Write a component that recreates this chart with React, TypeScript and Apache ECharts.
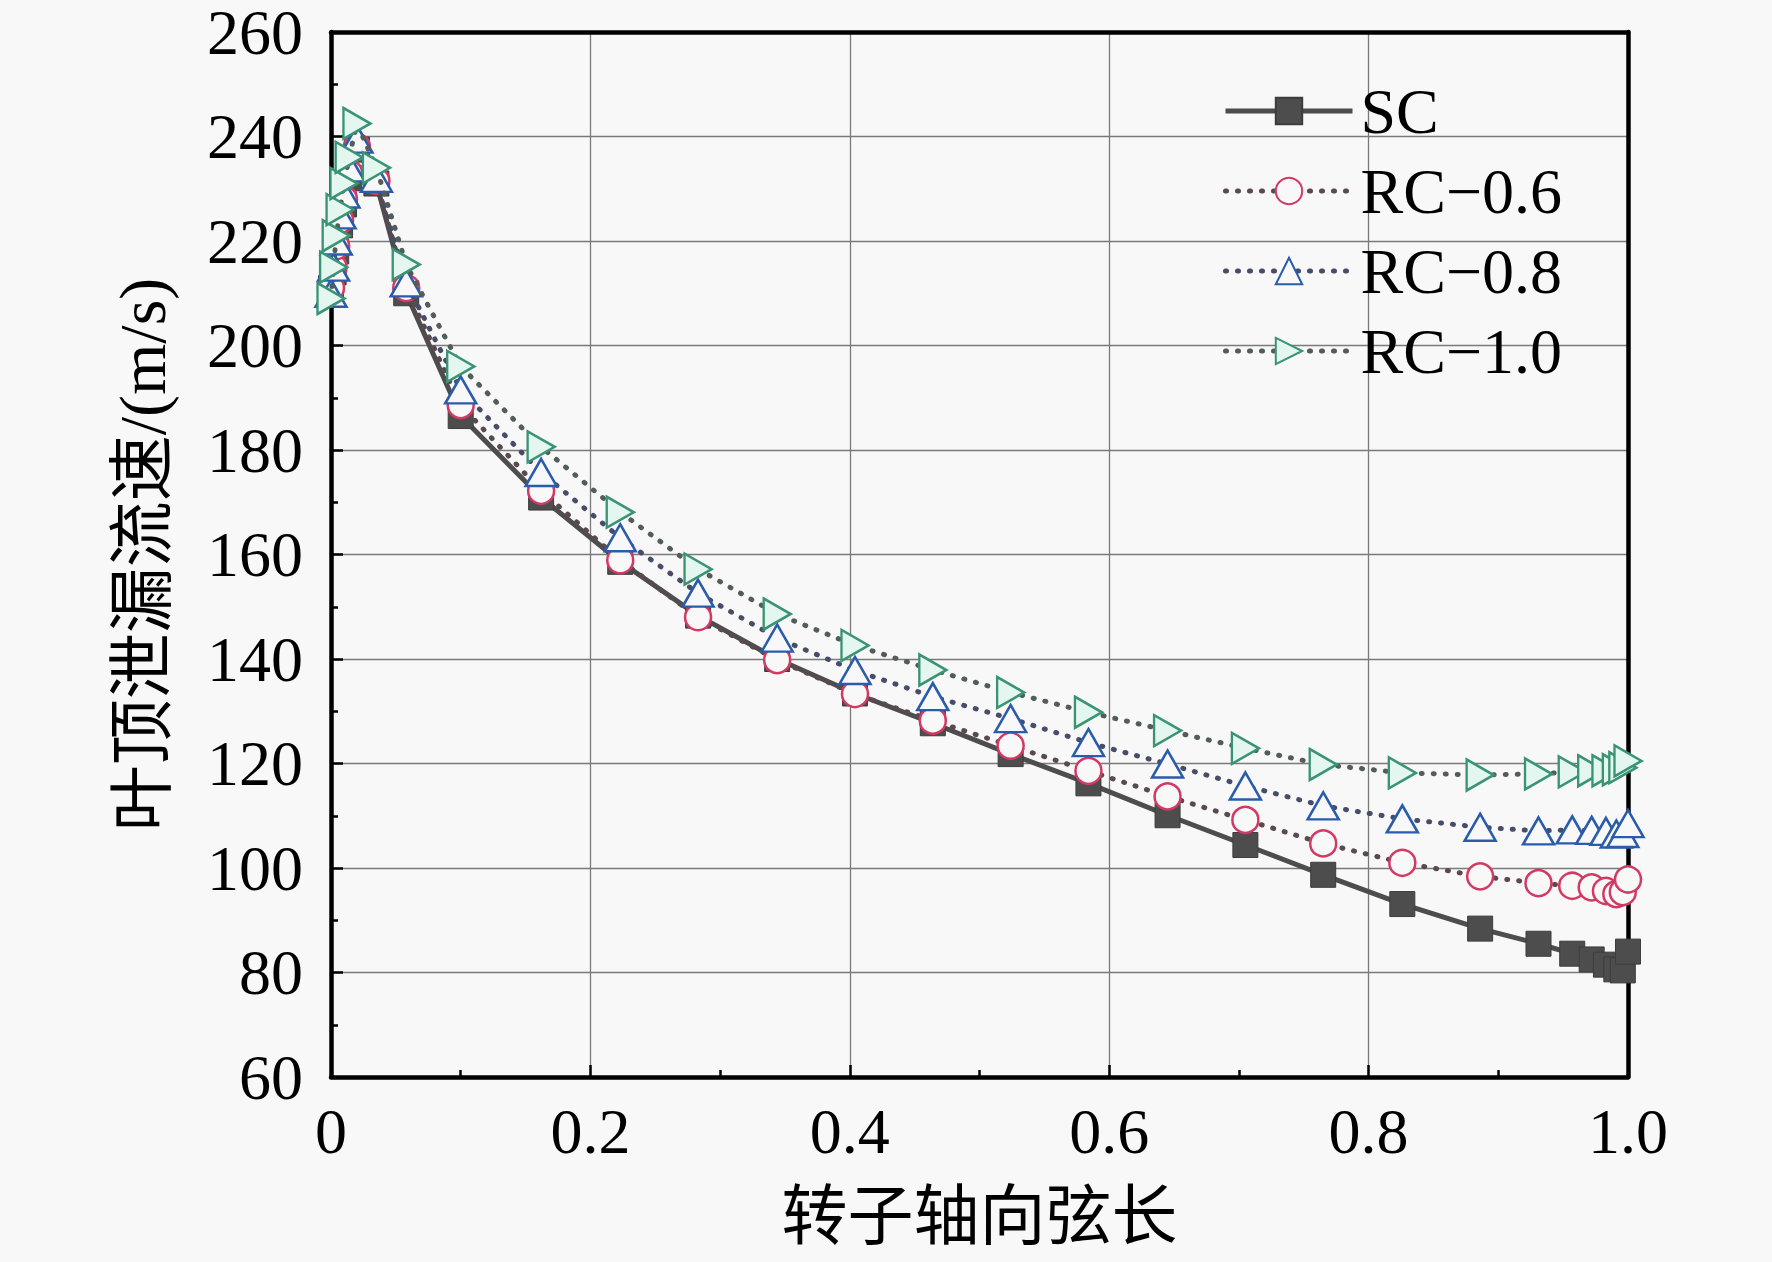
import React, { useEffect, useRef } from "react";
import * as echarts from "echarts";

// Axial chord positions (shared by all series)
const chordX = [
  0, 0.002, 0.004, 0.007, 0.01, 0.014, 0.02, 0.035, 0.058, 0.1,
  0.162, 0.223, 0.283, 0.344, 0.404, 0.464, 0.524, 0.584, 0.645, 0.705,
  0.765, 0.826, 0.886, 0.931, 0.957, 0.972, 0.983, 0.991, 0.996, 1.0,
];

const scValues = [
  211, 214, 218, 223, 227, 232, 237.5, 231, 210, 186.5,
  170.9, 158.6, 148.3, 140.0, 133.4, 127.7, 121.8, 116.2, 110.1, 104.4,
  98.7, 93.1, 88.4, 85.5, 83.6, 82.5, 81.5, 80.6, 80.4, 84.0,
];

const rc06Values = [
  211, 215, 219, 224, 228, 233, 238, 231.5, 211, 188.6,
  172.2, 158.9, 148.0, 139.8, 133.3, 128.2, 123.4, 118.6, 113.7, 109.2,
  104.7, 101.0, 98.4, 97.1, 96.6, 96.3, 95.6, 95.0, 95.4, 97.8,
];

const rc08Values = [
  210, 215, 220, 225, 229, 234, 239.5, 232, 212, 191.5,
  175.7, 163.2, 152.6, 144.0, 137.8, 132.8, 128.6, 124.0, 119.9, 115.7,
  111.9, 109.4, 107.8, 107.1, 107.3, 107.2, 107.0, 106.5, 106.6, 108.5,
];

const rc10Values = [
  209, 215, 221, 226, 231, 236, 242.5, 234, 215.5, 196.0,
  180.6, 168.1, 157.2, 148.6, 142.6, 137.9, 133.6, 129.8, 126.3, 122.9,
  119.8, 118.2, 117.8, 118.0, 118.4, 118.6, 118.6, 118.8, 119.2, 120.5,
];

const seriesNames = ["SC", "RC\u22120.6", "RC\u22120.8", "RC\u22121.0"];
const xTicks = [0, 0.2, 0.4, 0.6, 0.8, 1.0];
const yTicks = [60, 80, 100, 120, 140, 160, 180, 200, 220, 240, 260];

const xName = "转子轴向弦长";
const yName = "叶顶泄漏流速/(m/s)";

const BG = "#f8f8f8";
const FONT = "Liberation Serif, Noto Sans CJK SC, serif";

function pairs(values: number[]) {
  return chordX.map((x, i) => [x, values[i]]);
}

export default function App() {
  const ref = useRef<HTMLDivElement>(null);

  useEffect(() => {
    document.body.style.margin = "0";
    document.body.style.background = BG;
    if (!ref.current) return;
    const chart = echarts.init(ref.current, undefined, { renderer: "svg" });

    const dotted = {
      width: 5,
      color: "#505050",
      type: [1, 11] as number[],
      cap: "round" as const,
    };

    const option: any = {
      animation: false,
      backgroundColor: BG,
      grid: { left: 331, right: 144, top: 32, bottom: 185, containLabel: false },
      legend: {
        left: 1218,
        top: 74,
        orient: "vertical",
        selectedMode: false,
        itemWidth: 127,
        itemHeight: 33,
        itemGap: 16,
        data: seriesNames,
        lineStyle: { width: "inherit" },
        textStyle: {
          fontFamily: FONT,
          fontSize: 64,
          lineHeight: 64,
          color: "#000",
          padding: [0, 0, 0, 3],
        },
      },
      xAxis: [
        {
          type: "value",
          min: 0,
          max: 1,
          interval: 0.2,
          name: xName,
          nameLocation: "middle",
          nameGap: 106,
          nameTextStyle: { fontFamily: FONT, fontSize: 66, color: "#000" },
          axisLine: { show: true, onZero: false, lineStyle: { color: "#000", width: 4.5 } },
          axisTick: { show: true, inside: true, length: 12, lineStyle: { color: "#000", width: 2.5 } },
          minorTick: { show: true, splitNumber: 2, length: 7, lineStyle: { color: "#000", width: 2.5 } },
          splitLine: { show: true, lineStyle: { color: "#7a7a7a", width: 1.3 } },
          axisLabel: {
            margin: 22,
            fontFamily: FONT,
            fontSize: 64,
            color: "#000",
            formatter: (v: number) => (xTicks.includes(Number(v.toFixed(1))) ? (v === 0 ? "0" : v.toFixed(1)) : ""),
          },
        },
        {
          type: "value",
          min: 0,
          max: 1,
          position: "top",
          axisLine: { show: true, onZero: false, lineStyle: { color: "#000", width: 4.5 } },
          axisTick: { show: false },
          axisLabel: { show: false },
          splitLine: { show: false },
        },
      ],
      yAxis: [
        {
          type: "value",
          min: 60,
          max: 260,
          interval: 20,
          name: yName,
          nameLocation: "middle",
          nameGap: 156,
          nameTextStyle: { fontFamily: FONT, fontSize: 66, color: "#000" },
          axisLine: { show: true, onZero: false, lineStyle: { color: "#000", width: 4.5 } },
          axisTick: { show: true, inside: true, length: 12, lineStyle: { color: "#000", width: 2.5 } },
          minorTick: { show: true, splitNumber: 2, length: 7, lineStyle: { color: "#000", width: 2.5 } },
          splitLine: { show: true, lineStyle: { color: "#7a7a7a", width: 1.3 } },
          axisLabel: {
            margin: 28,
            fontFamily: FONT,
            fontSize: 64,
            lineHeight: 54,
            color: "#000",
            formatter: (v: number) => (yTicks.includes(v) ? String(v) : ""),
          },
        },
        {
          type: "value",
          min: 60,
          max: 260,
          position: "right",
          axisLine: { show: true, onZero: false, lineStyle: { color: "#000", width: 4.5 } },
          axisTick: { show: false },
          axisLabel: { show: false },
          splitLine: { show: false },
        },
      ],
      series: [
        {
          name: seriesNames[0],
          type: "line",
          data: pairs(scValues),
          symbol: "rect",
          symbolSize: 25,
          lineStyle: { width: 5, color: "#4d4d4d" },
          itemStyle: { color: "#4d4d4d", borderColor: "#3d3d3d", borderWidth: 1 },
          z: 2,
        },
        {
          name: seriesNames[1],
          type: "line",
          data: pairs(rc06Values),
          symbol: "circle",
          symbolSize: 26,
          lineStyle: { ...dotted, color: "#5a4a50" },
          itemStyle: { color: BG, borderColor: "#d23a63", borderWidth: 2.5 },
          z: 3,
        },
        {
          name: seriesNames[2],
          type: "line",
          data: pairs(rc08Values),
          symbol: "triangle",
          symbolSize: [31, 27],
          lineStyle: { ...dotted, color: "#474c68" },
          itemStyle: { color: BG, borderColor: "#2a5cab", borderWidth: 2.5 },
          z: 4,
        },
        {
          name: seriesNames[3],
          type: "line",
          data: pairs(rc10Values),
          symbol: "path://M0,0L10,5L0,10Z",
          symbolSize: [27, 31],
          lineStyle: { ...dotted, color: "#525c58" },
          itemStyle: { color: "#e4f6f0", borderColor: "#3a9474", borderWidth: 2.5 },
          z: 5,
        },
      ],
    };

    chart.setOption(option);
    return () => chart.dispose();
  }, []);

  return (
    <div
      ref={ref}
      style={{ position: "absolute", left: 0, top: 0, width: 1772, height: 1262 }}
    />
  );
}
